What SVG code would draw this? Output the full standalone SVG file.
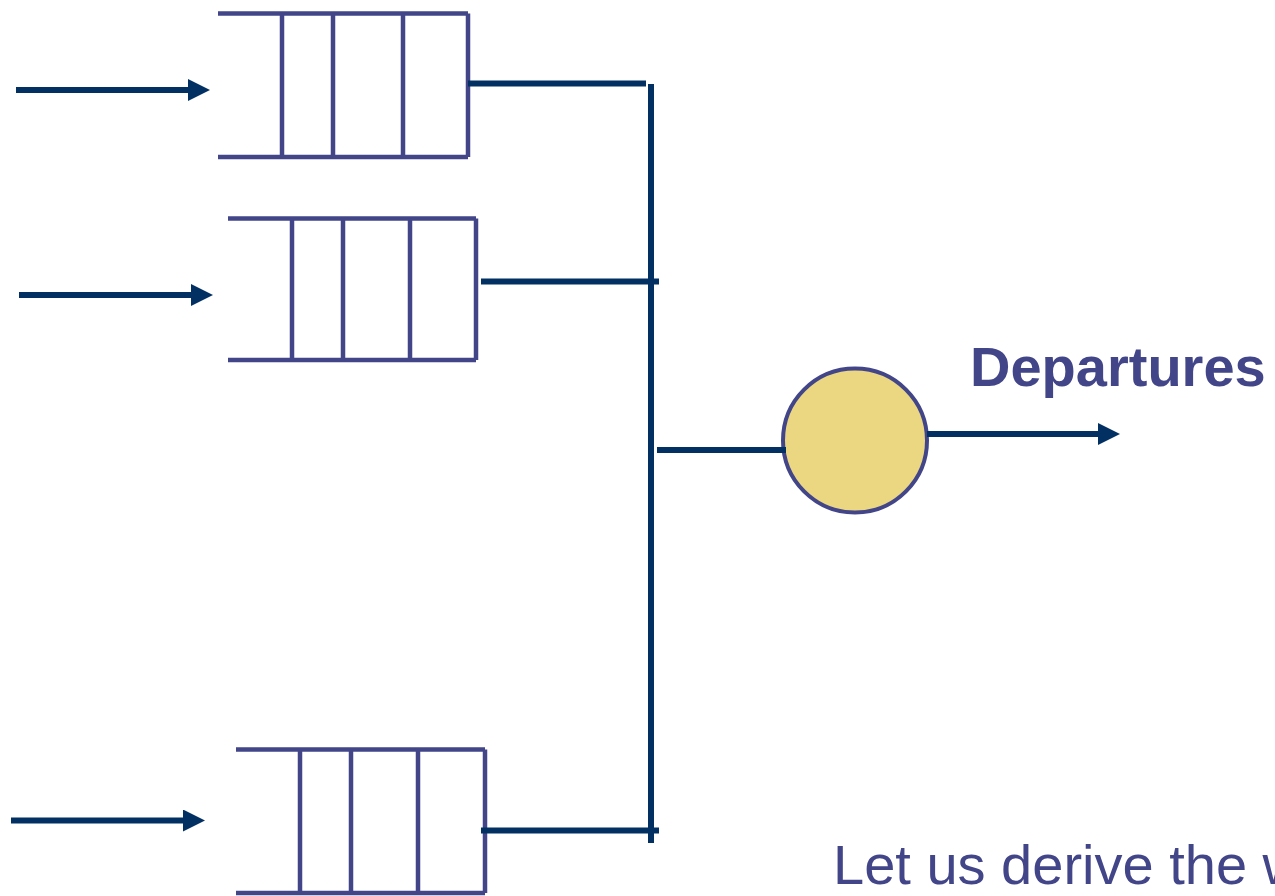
<svg xmlns="http://www.w3.org/2000/svg" width="1275" height="896" viewBox="0 0 1275 896">
  <style>
    .q { fill: none; stroke: #424689; stroke-width: 4.5; }
    .wire { fill: none; stroke: #033063; stroke-width: 6; }
    .arrow { fill: none; stroke: #033063; stroke-width: 6; marker-end: url(#head); }
    .server { fill: #EBD682; stroke: #424689; stroke-width: 4; }
    .lbl { font-family: "Liberation Sans", Arial, sans-serif; fill: #424689; }
  </style>
  <defs>
    <!-- arrowhead: the shaft stops 12px short of the tip -->
    <marker id="head" markerUnits="userSpaceOnUse" markerWidth="26" markerHeight="26" refX="10" refY="11" orient="auto">
      <path d="M0,0 L22,11 L0,22 Z" fill="#033063"/>
    </marker>
  </defs>

  <rect width="1275" height="896" fill="#ffffff"/>

  <!-- queue 1 -->
  <g id="queue1">
    <path class="q" d="M218,13.5 H468 M218,157 H468 M282,13.5 V157 M333,13.5 V157 M403,13.5 V157 M468,13.5 V157"/>
  </g>

  <!-- queue 2 -->
  <g id="queue2">
    <path class="q" d="M228,218.5 H476 M228,360 H476 M292,218.5 V360 M343,218.5 V360 M410,218.5 V360 M476,218.5 V360"/>
  </g>

  <!-- queue 3 -->
  <g id="queue3">
    <path class="q" d="M236,749.5 H485 M236,893 H485 M300,749.5 V893 M351,749.5 V893 M418,749.5 V893 M485,749.5 V893"/>
  </g>

  <!-- server -->
  <g id="server">
    <circle class="server" cx="855" cy="440.5" r="72"/>
  </g>

  <g id="departures-label">
    <text class="lbl" x="970" y="386" font-size="56" font-weight="bold">Departures</text>
  </g>

  <g id="caption">
    <text class="lbl" x="833" y="884" font-size="56">Let us derive the w</text>
  </g>

  <!-- connectors -->
  <g id="connectors">
    <line class="arrow" x1="16" y1="90" x2="198" y2="90"/>
    <line class="arrow" x1="19" y1="295" x2="201" y2="295"/>
    <line class="arrow" x1="11" y1="820.5" x2="193" y2="820.5"/>

    <line class="wire" x1="468" y1="83.5" x2="646" y2="83.5"/>
    <line class="wire" x1="481" y1="281.5" x2="659" y2="281.5"/>
    <line class="wire" x1="481" y1="830.5" x2="659" y2="830.5"/>

    <line class="wire" x1="651" y1="84" x2="651" y2="843"/>
    <line class="wire" x1="657" y1="450" x2="786" y2="450"/>

    <line class="arrow" x1="927" y1="434" x2="1108" y2="434"/>
  </g>
</svg>
